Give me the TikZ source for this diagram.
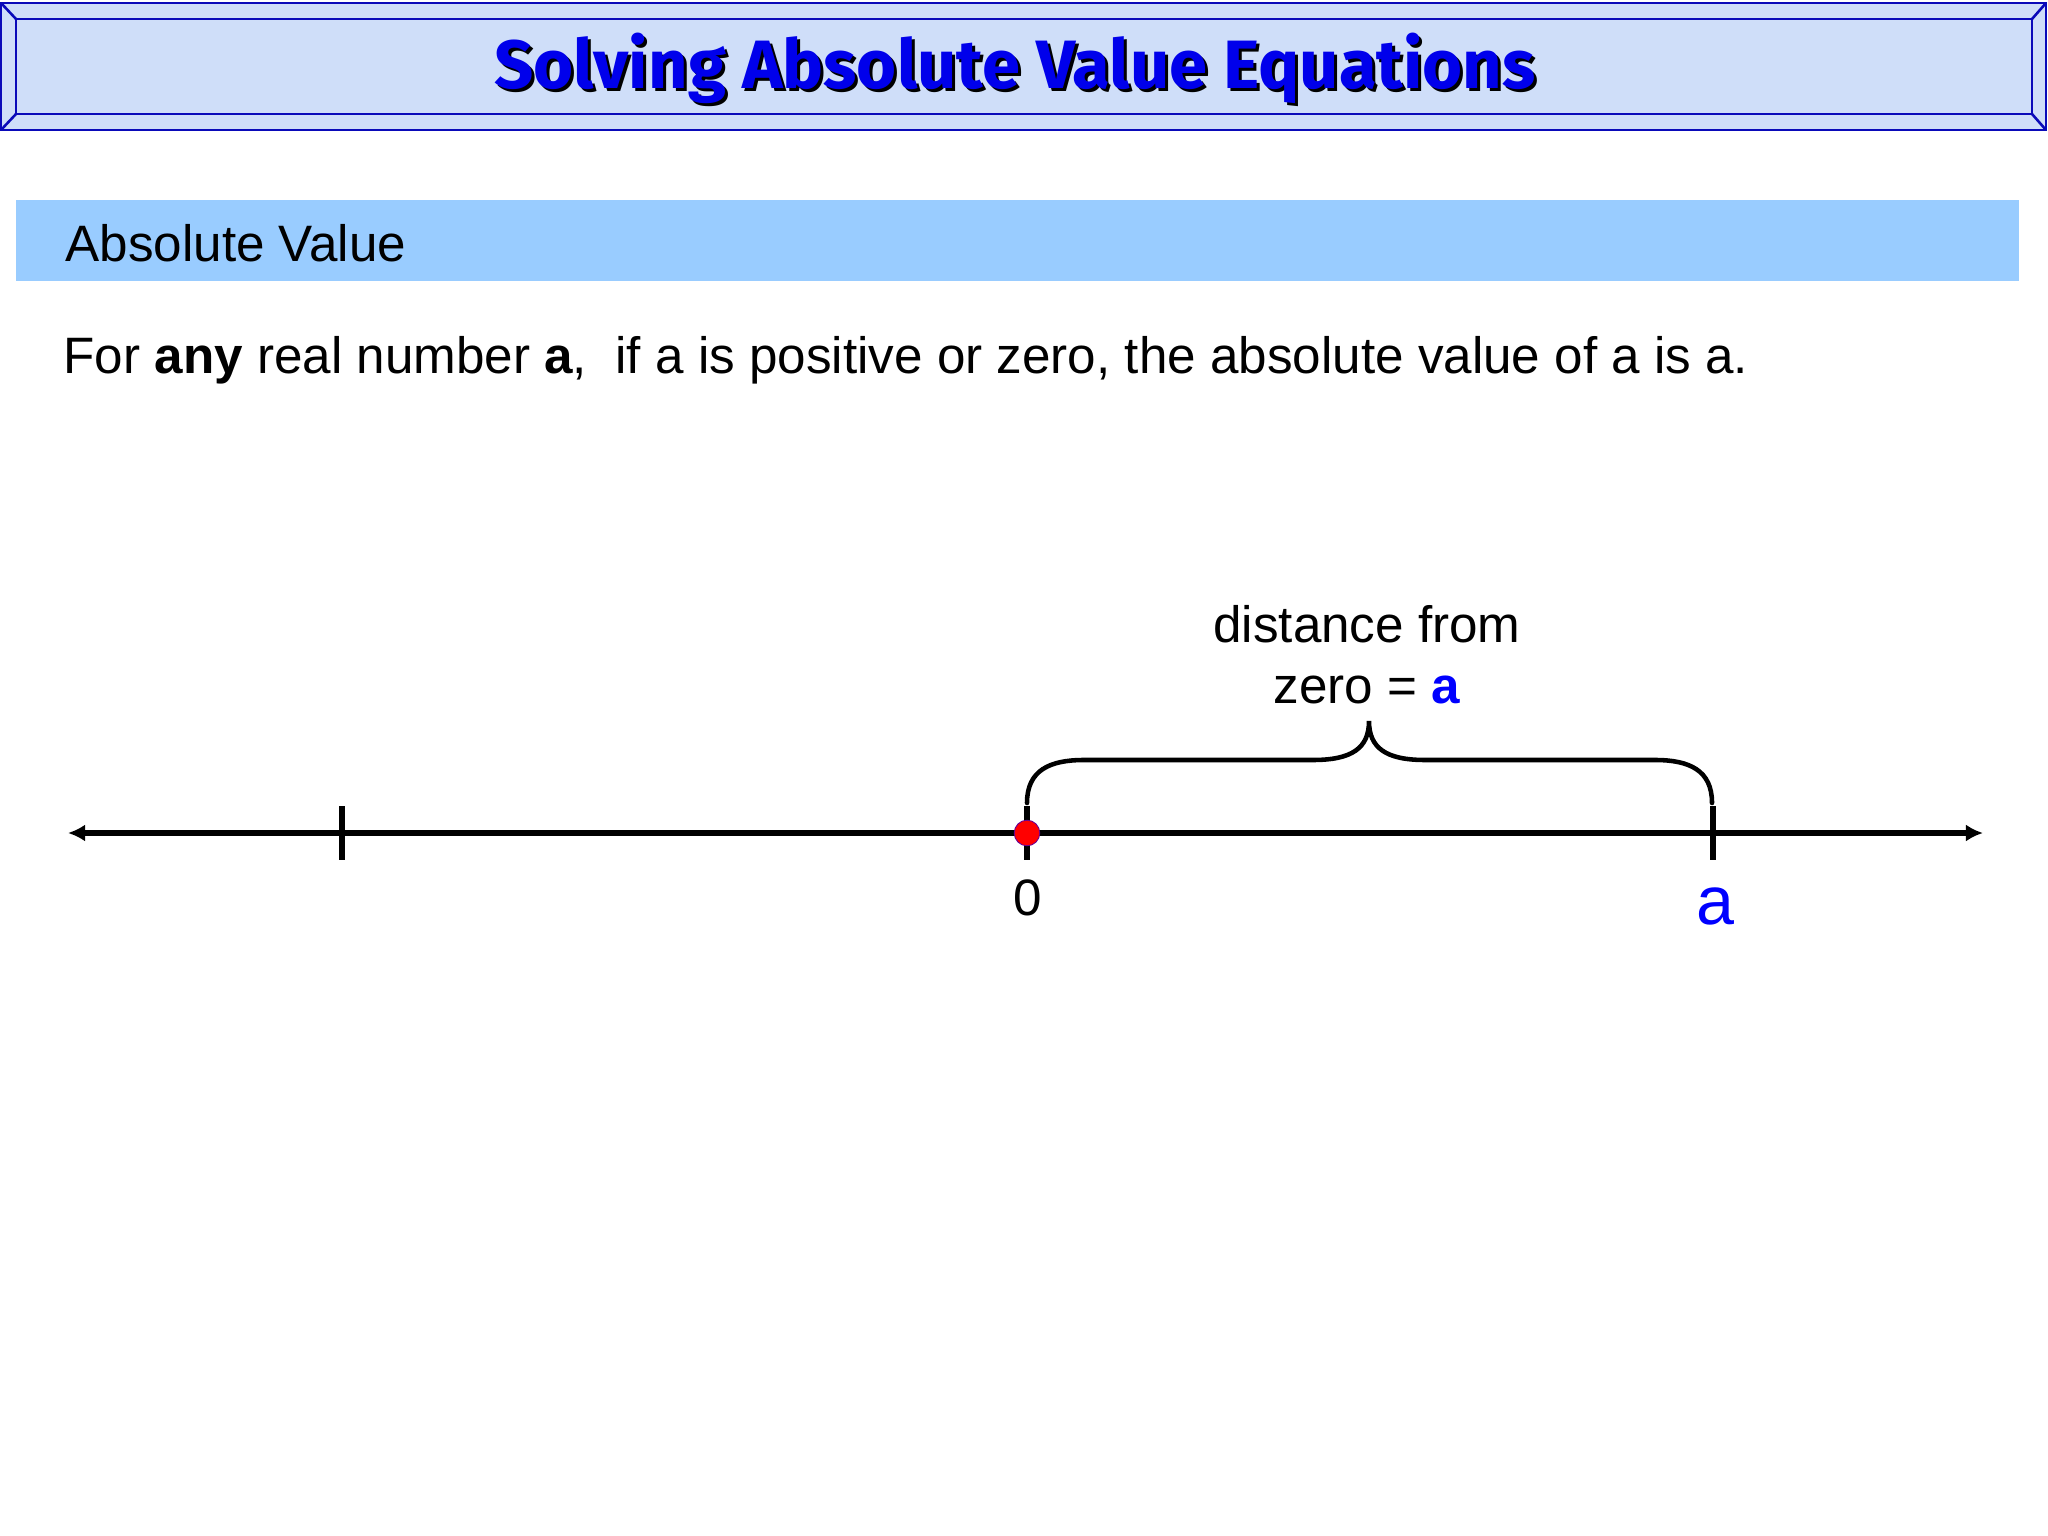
\documentclass[tikz,border=0pt]{standalone}
\usepackage{fontspec}
\setmainfont{Liberation Sans}
\newfontfamily\titlefont{Fira Sans}
\usetikzlibrary{arrows.meta,positioning}
\definecolor{bannerfill}{RGB}{207,222,249}
\definecolor{bannerline}{RGB}{10,10,185}
\definecolor{headbar}{RGB}{153,204,255}
\definecolor{titleblue}{RGB}{0,0,235}
\definecolor{labelblue}{RGB}{0,0,255}
\definecolor{dotred}{RGB}{255,0,0}
\newcommand\slidefont{\fontsize{18}{21.6}\selectfont}
\newcommand\titletext{\resizebox{366pt}{19.5pt}{\titlefont\bfseries Solving Absolute Value Equations}}

\begin{document}
\begin{tikzpicture}[x=0.3515625pt, y=-0.3515625pt,
        txt/.style={inner sep=0pt, font=\slidefont},
        axis/.style={line width=2pt, {Latex[length=6pt,width=6pt]}-{Latex[length=6pt,width=6pt]}},
        tick/.style={line width=1.8pt},
        brace/.style={line width=1.6pt, line cap=round}]

        \useasboundingbox (0,0) rectangle (2048,1536);

            \draw[bannerline, line width=0.9pt, fill=bannerfill] (1,3) rectangle (2046,130);
            \draw[bannerline, line width=0.9pt] (16,19) rectangle (2032,114);
            \draw[bannerline, line width=0.9pt] (1,3) -- (16,19) (2046,3) -- (2032,19)
                (1,130) -- (16,114) (2046,130) -- (2032,114);
            \node[inner sep=0pt, text=black] (shadow) at (1018,71) {\titletext};
            \node[inner sep=0pt, text=titleblue] (title) at (1015,68) {\titletext};

            \fill[headbar] (16,200) rectangle (2019,281);
            \node[txt, anchor=west] (head) at (65,243) {Absolute Value};
            \node[txt, anchor=west] (rule) at (63,360) {For \textbf{any} real number \textbf{a}, \ if a is positive or zero, the absolute value of a is a.};

            \coordinate (lft) at (68,833);
            \coordinate (rgt) at (1983,833);
            \coordinate (t1) at (342,833);
            \coordinate (t2) at (1027,833);
            \coordinate (t3) at (1713,833);

            \draw[axis] (lft) -- (rgt);
            \foreach \t in {t1,t2,t3}
                \draw[tick] (\t) ++(0,-27) -- ++(0,54);
            \node[circle, fill=dotred, draw=blue!60!red, line width=0.3pt, inner sep=0pt, minimum size=9pt] (zero) at (t2) {};

            \draw[brace] (1027,803) .. controls (1027,770) and (1050,760) .. (1084,760)
                -- (1313,760) .. controls (1352,760) and (1369,748) .. (1369,721)
                .. controls (1369,748) and (1386,760) .. (1425,760)
                -- (1655,760) .. controls (1689,760) and (1712,770) .. (1712,803);

            \node[txt] (dist1) at (1367,624) {distance from};
            \node[txt, below=21.5pt of dist1.base, anchor=base] (dist2) {zero = \textcolor{labelblue}{\textbf{a}}};
            \node[txt] (zlab) at (1028,898) {0};
            \node[txt, text=labelblue, font=\fontsize{24}{28}\selectfont] (alab) at (1715,906) {a};

        \end{tikzpicture}
\end{document}
